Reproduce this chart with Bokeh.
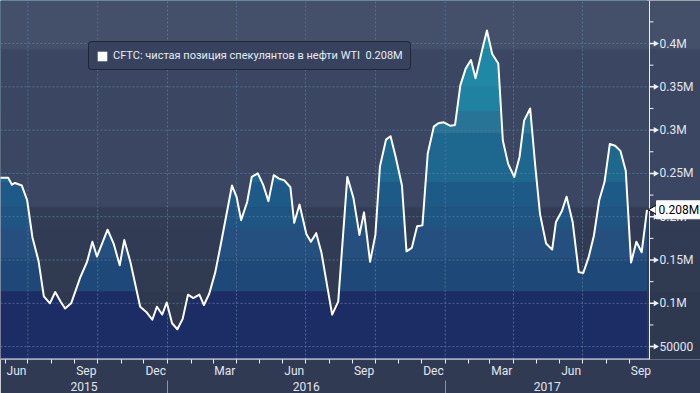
import numpy as np
import pandas as pd
from bokeh.plotting import figure
from bokeh.models import (Range1d, FixedTicker, DatetimeAxis, DatetimeTickFormatter,
                          Label, Legend, LegendItem)
from bokeh.core.properties import value
from bokeh.embed import file_html
from bokeh.resources import INLINE

# ---------------- data ----------------
DATES = [
    "2015-05-22", "2015-05-29", "2015-06-05", "2015-06-10", "2015-06-14", "2015-06-23",
    "2015-06-30", "2015-07-07", "2015-07-15", "2015-07-22", "2015-07-30", "2015-08-06",
    "2015-08-13", "2015-08-19", "2015-08-27", "2015-09-08", "2015-09-17", "2015-09-24",
    "2015-09-30", "2015-10-14", "2015-10-22", "2015-10-30", "2015-11-05", "2015-11-13",
    "2015-11-26", "2015-12-04", "2015-12-12", "2015-12-18", "2015-12-25", "2015-12-31",
    "2016-01-07", "2016-01-14", "2016-01-21", "2016-01-28", "2016-02-04", "2016-02-12",
    "2016-02-18", "2016-02-25", "2016-03-04", "2016-03-11", "2016-03-26", "2016-04-01",
    "2016-04-07", "2016-04-15", "2016-04-21", "2016-04-29", "2016-05-06", "2016-05-13",
    "2016-05-20", "2016-05-27", "2016-06-03", "2016-06-11", "2016-06-16", "2016-06-23",
    "2016-07-02", "2016-07-08", "2016-07-15", "2016-07-22", "2016-08-05", "2016-08-13",
    "2016-08-25", "2016-09-02", "2016-09-10", "2016-09-16", "2016-09-24", "2016-10-01",
    "2016-10-07", "2016-10-15", "2016-10-21", "2016-10-28", "2016-11-05", "2016-11-11",
    "2016-11-18", "2016-11-25", "2016-12-02", "2016-12-09", "2016-12-17", "2016-12-23",
    "2016-12-30", "2017-01-08", "2017-01-14", "2017-01-21", "2017-01-28", "2017-02-04",
    "2017-02-10", "2017-02-18", "2017-02-25", "2017-03-04", "2017-03-12", "2017-03-18",
    "2017-03-25", "2017-04-02", "2017-04-09", "2017-04-15", "2017-04-23", "2017-04-30",
    "2017-05-06", "2017-05-14", "2017-05-22", "2017-05-27", "2017-06-04", "2017-06-10",
    "2017-06-18", "2017-06-26", "2017-07-02", "2017-07-09", "2017-07-16", "2017-07-23",
    "2017-07-30", "2017-08-06", "2017-08-13", "2017-08-20", "2017-08-27", "2017-09-03",
    "2017-09-10", "2017-09-17", "2017-09-24",
]
VALUES = [
    245000, 245000, 245000, 237000, 239000, 236000,
    219000, 176000, 149000, 108000, 100000, 113000,
    102000, 94000, 100000, 130000, 148000, 171000,
    154000, 185000, 169000, 144000, 173000, 148000,
    96000, 90000, 81000, 96000, 87000, 101000,
    77000, 70000, 82000, 110000, 106000, 110000,
    98000, 111000, 136000, 167000, 236000, 223000,
    196000, 217000, 246000, 250000, 237000, 218000,
    248000, 244000, 242000, 234000, 193000, 214000,
    180000, 171000, 181000, 158000, 87000, 102000,
    246000, 222000, 179000, 205000, 148000, 179000,
    258000, 289000, 293000, 268000, 236000, 160000,
    164000, 189000, 190000, 273000, 304000, 308000,
    309000, 305000, 306000, 352000, 371000, 381000,
    360000, 390000, 415000, 388000, 377000, 288000,
    261000, 246000, 269000, 311000, 325000, 256000,
    203000, 169000, 162000, 194000, 207000, 223000,
    194000, 136000, 135000, 153000, 178000, 219000,
    240000, 284000, 282000, 276000, 253000, 147000,
    171000, 159000, 208000,
]
SERIES_NAME = "CFTC: чистая позиция спекулянтов в нефти WTI"
LAST_LABEL = "0.208M"

Y_TICKS = [50000, 100000, 150000, 200000, 250000, 300000, 350000, 400000]
Y_TICK_LABELS = ["50000", "0.1M", "0.15M", "0.2M", "0.25M", "0.3M", "0.35M", "0.4M"]
Y_MINOR = [75000, 125000, 175000, 225000, 275000, 325000, 375000, 425000]
MONTH_LABELS = ["2015-06", "2015-09", "2015-12", "2016-03", "2016-06",
                "2016-09", "2016-12", "2017-03", "2017-06", "2017-09"]
GRID_MONTHS = ["2015-07-01", "2015-10-01", "2016-01-01", "2016-04-01", "2016-07-01",
               "2016-10-01", "2017-01-01", "2017-04-01", "2017-07-01"]
YEAR_STARTS = ["2016-01-01", "2017-01-01"]
X_START, AXIS_X = "2015-05-25 21:00", "2017-09-27 07:00"
Y_START, Y_END = 35100, 449700

# value bands (Bloomberg-style banded area)
BAND_EDGES = [35100, 114000, 152000, 187000, 211000, 240000, 296000, 322000, 351000, 393000, 449700]
FILL_COLORS = ["#1c2c65", "#1f4878", "#244f7e", "#1f5683", "#1d5a87",
               "#1e688f", "#277497", "#1f82a0", "#1f88a5", "#228ea9"]
ABOVE_COLORS = ["#2e3851", "#2f3a54", "#313c56", "#323d57", "#3a4662",
                "#3a4662", "#3a4662", "#3a4662", "#3a4662", "#434f6b"]
BASE_ABOVE = "#3a4662"

W, H = 700, 393
AXIS_PX = 649          # pixel column of the value axis
BOTTOM_PX = 34          # height of the date axes


def ms(s):
    return pd.Timestamp(s).value / 1e6


def hex2rgb(h):
    h = h.lstrip("#")
    return np.array([int(h[i:i + 2], 16) for i in (0, 2, 4)], dtype=float)


def rgb2hex(c):
    c = np.clip(np.round(c), 0, 255).astype(int)
    return "#%02x%02x%02x" % tuple(c)


# overlay tints that turn the base "above" colour into each band's colour,
# and pre-compensated fill colours so the tinted fill matches the target
G = hex2rgb(BASE_ABOVE)
pre_fill, ov_color, ov_alpha = [], [], []
for fc, ac in zip(FILL_COLORS, ABOVE_COLORS):
    A, T = hex2rgb(ac), hex2rgb(fc)
    if np.allclose(A, G):
        O, a = np.array([255.0, 255, 255]), 0.0
    elif A.mean() > G.mean():
        O = np.array([255.0, 255, 255])
        a = float(np.mean((A - G) / (255 - G)))
    else:
        O = np.array([0.0, 0, 0])
        a = float(np.mean(1 - A / G))
    pre_fill.append(rgb2hex((T - O * a) / (1 - a)))
    ov_color.append(rgb2hex(O))
    ov_alpha.append(a)

dates = pd.to_datetime(DATES)
xs, xa_ms = ms(X_START), ms(AXIS_X)
px_ms = (xa_ms - xs) / AXIS_PX          # milliseconds per pixel
xe = xs + W * px_ms                     # frame spans full width
nb = len(FILL_COLORS)
last_ms = ms(DATES[-1])

FONT = "Roboto"
TXT = "#e2e7ef"
AXC = "#eef1f6"

p = figure(width=W, height=H, x_axis_type="datetime", y_axis_location=None,
           x_range=Range1d(xs, xe), y_range=Range1d(Y_START, Y_END),
           output_backend="svg", toolbar_location=None,
           min_border_left=0, min_border_top=0, min_border_right=0, min_border_bottom=0,
           background_fill_color=BASE_ABOVE, border_fill_color="#303a53",
           outline_line_color=None)
p.xgrid.visible = False
p.ygrid.visible = False

# banded fill under the line
p.quad(left=[xs] * nb, right=[last_ms] * nb, bottom=BAND_EDGES[:-1], top=BAND_EDGES[1:],
       fill_color=pre_fill, line_color=None)
# area above the line
p.varea(x=dates, y1=VALUES, y2=Y_END, fill_color=BASE_ABOVE)
# band tints (apply to both sides of the line and the axis strip)
p.quad(left=[xs] * nb, right=[xe] * nb, bottom=BAND_EDGES[:-1], top=BAND_EDGES[1:],
       fill_color=ov_color, fill_alpha=ov_alpha, line_color=None)

# ---------------- grid ----------------
GRID_C = "#55779a"
gx = [ms(d) for d in GRID_MONTHS]
p.segment(x0=gx, x1=gx, y0=[Y_START] * len(gx), y1=[Y_END] * len(gx),
          line_color=GRID_C, line_alpha=0.85, line_dash="2 2", line_width=1)
p.segment(x0=[xs] * len(Y_TICKS), x1=[xa_ms] * len(Y_TICKS), y0=Y_TICKS, y1=Y_TICKS,
          line_color=GRID_C, line_alpha=0.85, line_dash="2 2", line_width=1)

# series line
p.line(dates, VALUES, line_color="white", line_width=2, line_join="round")

# ---------------- value axis (drawn inside frame, on the right) ----------------
p.segment(x0=[xa_ms], x1=[xa_ms], y0=[Y_START], y1=[Y_END], line_color=AXC, line_width=1)
p.segment(x0=[xs], x1=[xa_ms], y0=[Y_START], y1=[Y_START], line_color=AXC, line_width=2)
n = len(Y_TICKS)
p.segment(x0=[xa_ms] * n, x1=[xa_ms + 5 * px_ms] * n, y0=Y_TICKS, y1=Y_TICKS,
          line_color=AXC, line_width=1.5)
p.scatter(x=[xa_ms + 6 * px_ms] * n, y=Y_TICKS, marker="triangle", angle=-np.pi / 2,
          size=6, fill_color=AXC, line_color=None)
p.segment(x0=[xa_ms] * len(Y_MINOR), x1=[xa_ms + 4 * px_ms] * len(Y_MINOR), y0=Y_MINOR,
          y1=Y_MINOR, line_color=AXC, line_width=1)
p.text(x=[xa_ms] * n, y=Y_TICKS, text=Y_TICK_LABELS, x_offset=10, text_baseline="middle",
       text_align="left", text_font=value(FONT), text_font_size=value("12px"), text_color=TXT)

# ---------------- x axis: months ----------------
month_mids = []
for m in MONTH_LABELS:
    s = pd.Timestamp(m + "-01")
    e = s + pd.offsets.MonthBegin(1)
    month_mids.append(ms(s) + (ms(e) - ms(s)) / 2)
month_starts = [ms(d) for d in pd.date_range("2015-06-01", "2017-09-01", freq="MS")]
xa = p.xaxis[0]
xa.ticker = FixedTicker(ticks=month_mids, minor_ticks=month_starts)
xa.formatter = DatetimeTickFormatter(days="%b", months="%b", years="%b", hours="%b")
xa.axis_line_color = None
xa.major_tick_out = 0
xa.major_tick_in = 0
xa.minor_tick_out = 4
xa.minor_tick_in = 0
xa.minor_tick_line_color = AXC
xa.major_label_standoff = 0
xa.major_label_text_font = FONT
xa.major_label_text_font_size = "12px"
xa.major_label_text_color = TXT

# ---------------- x axis: years ----------------
bounds = [xs] + [ms(y) for y in YEAR_STARTS] + [xa_ms]
year_mids = [(a + b) / 2 for a, b in zip(bounds[:-1], bounds[1:])]
yax = DatetimeAxis(ticker=FixedTicker(ticks=year_mids, minor_ticks=[ms(y) for y in YEAR_STARTS]),
                   formatter=DatetimeTickFormatter(days="%Y", months="%Y", years="%Y", hours="%Y"))
yax.axis_line_color = None
yax.major_tick_line_color = None
yax.major_tick_out = 0
yax.minor_tick_in = 0
yax.minor_tick_out = 17
yax.minor_tick_line_color = "#8a92a5"
yax.major_label_standoff = -16
yax.major_label_text_font = FONT
yax.major_label_text_font_size = "12px"
yax.major_label_text_color = TXT
p.add_layout(yax, "below")

# ---------------- legend ----------------
leg_r = p.quad(left=[xs], right=[xs], top=[Y_START], bottom=[Y_START],
               fill_color="white", line_color=None, visible=False)
legend = Legend(items=[LegendItem(label=SERIES_NAME + "  " + LAST_LABEL, renderers=[leg_r])],
                location=(88, 289), glyph_width=12, glyph_height=12, label_standoff=5,
                padding=7, margin=0, spacing=0, label_height=12,
                label_text_font=FONT, label_text_font_size="11px", label_text_color="#e8ecf2",
                background_fill_color="#37435e", background_fill_alpha=1.0,
                border_line_color="#0a0c10", border_line_width=1,
                inactive_fill_alpha=0.0)
if "border_radius" in Legend.properties():
    legend.border_radius = 4
p.add_layout(legend)

# ---------------- last value tag ----------------
p.scatter(x=[xa_ms + 4 * px_ms], y=[VALUES[-1]], marker="triangle", angle=np.pi / 2,
          size=9, fill_color="white", line_color="black", line_width=1)
tag = Label(x=xa_ms, y=VALUES[-1], x_offset=7, text=LAST_LABEL, text_baseline="middle",
            text_align="left", text_font=FONT, text_font_size="12px", text_color="black",
            background_fill_color="white", border_line_color="white")
if "padding" in Label.properties():
    tag.padding = 2
p.add_layout(tag)

open("out.html", "w").write(file_html(p, INLINE))
